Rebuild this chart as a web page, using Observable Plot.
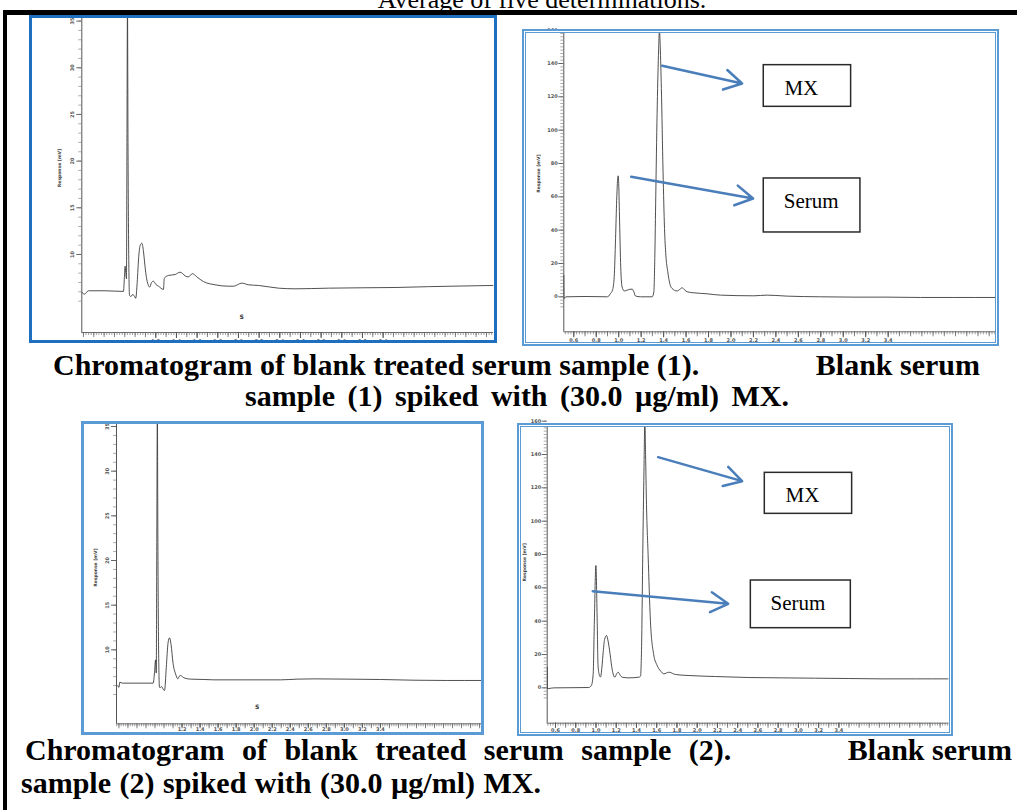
<!DOCTYPE html>
<html><head><meta charset="utf-8">
<script src="https://cdn.jsdelivr.net/npm/d3@7"></script>
<script src="https://cdn.jsdelivr.net/npm/@observablehq/plot@0.6"></script>
<style>
html,body{margin:0;padding:0;background:#fff;}
#page{position:relative;width:1017px;height:810px;overflow:hidden;background:#fff;}
.panel{position:absolute;}
.border{position:absolute;box-sizing:border-box;pointer-events:none;}
</style></head><body><div id="page"></div>
<script>
// ---------- DATA (retention time [min], response [mV]) ----------
const p1Trace = [[0.484,5.96],[0.51,5.75],[0.548,6.11],[0.71,6.11],[0.887,6.04],[0.896,7.5],[0.903,8.75],[0.91,8.0],[0.916,7.4],[0.921,22],[0.926,37],[0.931,22],[0.938,10],[0.946,5.6],[0.96,5.5],[0.975,5.7],[0.99,5.6],[1.006,5.3],[1.02,7],[1.035,9.8],[1.05,11],[1.065,11.2],[1.08,10.4],[1.095,8.8],[1.11,7.5],[1.125,6.8],[1.14,6.5],[1.16,7.0],[1.177,7.14],[1.2,6.8],[1.226,6.6],[1.274,6.25],[1.282,7.4],[1.29,7.55],[1.323,7.75],[1.387,7.85],[1.435,8.1],[1.46,7.95],[1.484,7.7],[1.516,7.6],[1.555,7.95],[1.597,7.6],[1.661,7.1],[1.774,6.75],[1.903,6.6],[1.952,6.6],[2.032,6.93],[2.097,6.75],[2.194,6.68],[2.387,6.39],[2.548,6.32],[2.871,6.39],[3.194,6.43],[3.516,6.46],[3.839,6.55],[4.161,6.62],[4.47,6.68]];
const p2Trace = [[0.511,13],[0.513,-1],[0.53,0],[0.7,0.2],[0.9,0],[0.912,0.5],[0.927,2],[0.945,4],[0.96,12],[0.972,35],[0.982,58],[0.99,70],[0.995,72.6],[1.0,68],[1.008,45],[1.018,18],[1.03,6],[1.05,3.5],[1.075,4],[1.1,4.5],[1.12,4.6],[1.135,3],[1.149,0.5],[1.194,0],[1.298,0],[1.313,3],[1.322,25],[1.33,60],[1.342,110],[1.354,145],[1.363,160],[1.37,150],[1.38,125],[1.395,75],[1.408,41],[1.42,25],[1.437,15],[1.455,8],[1.475,5],[1.52,3.5],[1.545,4.5],[1.565,5.4],[1.59,4],[1.609,3],[1.669,2.4],[1.788,1.8],[1.906,1],[2.203,0.6],[2.322,1],[2.4,0.8],[2.5,0.4],[2.797,0],[3.094,-0.2],[3.391,-0.2],[3.688,-0.4],[3.985,-0.4],[4.356,-0.4]];
const p3Trace = [[0.488,6.0],[0.5,5.8],[0.51,6.38],[0.536,6.27],[0.88,6.27],[0.895,7.5],[0.906,8.88],[0.914,7.4],[0.92,22],[0.926,37],[0.932,22],[0.94,10],[0.95,5.8],[0.962,5.8],[0.975,5.9],[0.99,5.6],[1.006,5.45],[1.025,8],[1.045,10.8],[1.061,11.34],[1.078,10.6],[1.1,8.5],[1.128,7.31],[1.153,6.75],[1.17,7.05],[1.183,7.13],[1.22,6.87],[1.294,6.72],[1.442,6.68],[1.553,6.64],[1.922,6.64],[2.292,6.64],[2.477,6.72],[2.662,6.75],[3.031,6.72],[3.401,6.68],[3.771,6.6],[4.14,6.57],[4.529,6.57]];
const p4Trace = [[0.518,12.4],[0.521,-0.5],[0.534,-0.4],[0.584,0],[0.929,0.2],[0.955,1.5],[0.972,8],[0.984,40],[0.999,73.4],[1.012,40],[1.02,14],[1.032,8],[1.045,6.5],[1.058,12],[1.072,22],[1.085,29],[1.104,31.4],[1.12,28],[1.14,20],[1.16,11],[1.186,6.4],[1.205,8.5],[1.219,9.4],[1.24,7.5],[1.259,6.4],[1.325,6],[1.423,6.4],[1.44,7],[1.452,30],[1.462,80],[1.474,130],[1.483,160],[1.49,140],[1.499,110],[1.515,80],[1.538,40],[1.57,20],[1.6,14],[1.64,10],[1.67,8.4],[1.72,9.4],[1.786,8],[1.918,7.4],[2.181,6.8],[2.51,6.2],[2.84,6],[3.169,5.8],[3.499,5.6],[3.828,5.4],[4.157,5.4],[4.487,5.4]];

// tick labels
const xLabelsBlank = [1.2,1.4,1.6,1.8,2.0,2.2,2.4,2.6,2.8,3.0,3.2,3.4];
const xLabelsSpiked = [0.6,0.8,1.0,1.2,1.4,1.6,1.8,2.0,2.2,2.4,2.6,2.8,3.0,3.2,3.4];
const yLabelsBlank = [10,15,20,25,30,35];
const yLabelsSpiked = [0,20,40,60,80,100,120,140,160];
const yAxisTitle = ["Response [mV]"];
const sMarks1 = [{t:2.032, v:3.3, s:"S"}];
const sMarks3 = [{t:2.033, v:3.6, s:"S"}];

// annotations (in data units of each spiked chromatogram)
const p2Arrows = [{x1:1.387,y1:138.6,x2:2.099,y2:128},{x1:1.111,y1:72,x2:2.197,y2:59}];
const p2Boxes = [{x1:2.292,x2:3.070,y1:139,y2:114},{x1:2.292,x2:3.153,y1:71,y2:38.6}];
const p2Names = [{t:2.476,v:121,name:"MX"},{t:2.471,v:53,name:"Serum"}];
const p4Arrows = [{x1:1.614,y1:138.4,x2:2.444,y2:124},{x1:0.968,y1:58,x2:2.306,y2:50.4}];
const p4Boxes = [{x1:2.668,x2:3.531,y1:129,y2:104.4},{x1:2.530,x2:3.518,y1:64.4,y2:35.8}];
const p4Names = [{t:2.873,v:111.4,name:"MX"},{t:2.724,v:46.8,name:"Serum"}];

// ---------- drawing ----------
const serif = "'Liberation Serif','Times New Roman',Times,serif";
const page = document.getElementById("page");

function chromatogram(c) {
  const data = c.trace.map(([t, v]) => ({t, v}));
  const [x0, x1] = c.x, [y0, y1] = c.y;
  const minorX = d3.range(Math.ceil(x0 / 0.025) * 0.025, x1, 0.025);
  const midX = d3.range(Math.ceil(x0 / 0.1) * 0.1, x1, 0.1);
  const marks = [
    Plot.ruleX([x0], {stroke: "#555", strokeWidth: 1}),
    Plot.ruleY([y0], {stroke: "#666", strokeWidth: 1}),
    Plot.axisX({ticks: minorX, tickSize: 3, fill: "none", stroke: "#777", strokeWidth: 0.7, label: null}),
    Plot.axisX({ticks: midX, tickSize: 5, fill: "none", stroke: "#666", strokeWidth: 0.8, label: null}),
    Plot.axisX({ticks: c.xLabels, tickSize: c.xTick, tickPadding: c.xPad, fontSize: 5, fontWeight: "bold", fill: "#555", stroke: "#555", tickFormat: d3.format(".1f"), label: null}),
    Plot.axisY({ticks: c.yMinor, tickSize: 3, fill: "none", stroke: "#888", strokeWidth: 0.7, label: null}),
    Plot.axisY({ticks: c.yLabels, tickSize: 5, tickPadding: c.yPad, fontSize: 5, fontWeight: "bold", fill: "#555", stroke: "#666", tickRotate: c.rotateY, tickFormat: d3.format("d"), label: null}),
    Plot.text(yAxisTitle, {frameAnchor: "left", textAnchor: "middle", rotate: -90, dx: -c.titleOffset, dy: c.titleDy, fontSize: 4.5, fontWeight: "bold", fill: "#444"}),
    Plot.line(data, {x: "t", y: "v", stroke: "#3c3c3c", strokeWidth: 0.9, curve: "monotone-x", clip: true})
  ];
  if (c.sMarks) marks.push(Plot.text(c.sMarks, {x: "t", y: "v", text: "s", fontSize: 6, fontWeight: "bold", fill: "#333"}));
  if (c.arrows) {
    marks.push(Plot.rect(c.boxes, {x1: "x1", x2: "x2", y1: "y1", y2: "y2", fill: "white", stroke: "#2a2a2a", strokeWidth: 1.5}));
    marks.push(Plot.text(c.names, {x: "t", y: "v", text: "name", textAnchor: "start", lineAnchor: "bottom", fontSize: 21, fontFamily: serif, fill: "#000"}));
    marks.push(Plot.arrow(c.arrows, {x1: "x1", y1: "y1", x2: "x2", y2: "y2", stroke: "#4a7ebb", strokeWidth: 2.5, headLength: 12, headAngle: 60}));
  }
  return Plot.plot({
    width: c.width, height: c.height,
    marginLeft: c.ml, marginRight: c.mr, marginTop: c.mt, marginBottom: c.mb,
    x: {domain: c.x}, y: {domain: c.y},
    style: {background: "none", overflow: "visible", fontFamily: "'DejaVu Sans',sans-serif"},
    marks
  });
}

const panels = [
  {left:29, top:15, width:468, height:328, ml:52.3, mr:3.8, mt:0, mb:11, x:[0.484,4.47], y:[1.64,35.6],
   trace:p1Trace, xLabels:xLabelsBlank, xTick:6, xPad:1, yLabels:yLabelsBlank, yMinor:d3.range(5,36,1), rotateY:-90, yPad:3,
   titleOffset:22.6, titleDy:-6, sMarks:sMarks1,
   border:"3px solid #1f6fc1", shadow:"none"},
  {left:522, top:29, width:477, height:317, ml:41.3, mr:4, mt:0, mb:14.7, x:[0.511,4.356], y:[-21,160.4],
   trace:p2Trace, xLabels:xLabelsSpiked, xTick:6, xPad:1, yLabels:yLabelsSpiked, yMinor:d3.range(-6,161,2), rotateY:0, yPad:1,
   titleOffset:25, titleDy:-7, arrows:p2Arrows, boxes:p2Boxes, names:p2Names,
   border:"2px solid #5b9bd5", shadow:"inset 0 0 0 1px #fff, inset 0 0 0 2px #5b9bd5"},
  {left:81, top:421, width:403, height:314, ml:35, mr:2.3, mt:0, mb:11.7, x:[0.473,4.529], y:[1.72,35.56],
   trace:p3Trace, xLabels:xLabelsBlank, xTick:4, xPad:0, yLabels:yLabelsBlank, yMinor:d3.range(5,36,1), rotateY:-90, yPad:3,
   titleOffset:21, titleDy:-5, sMarks:sMarks3,
   border:"3px solid #5b9bd5", shadow:"none"},
  {left:517, top:423, width:436, height:313, ml:29.7, mr:4.6, mt:0, mb:13.3, x:[0.518,4.487], y:[-21.2,158.6],
   trace:p4Trace, xLabels:xLabelsSpiked, xTick:5, xPad:0, yLabels:yLabelsSpiked, yMinor:d3.range(-6,161,2), rotateY:0, yPad:1,
   titleOffset:22.4, titleDy:-11, arrows:p4Arrows, boxes:p4Boxes, names:p4Names,
   border:"2px solid #5b9bd5", shadow:"inset 0 0 0 1px #fff, inset 0 0 0 2px #5b9bd5"}
];

for (const c of panels) {
  const holder = document.createElement("div");
  holder.className = "panel";
  Object.assign(holder.style, {left: c.left + "px", top: c.top + "px", width: c.width + "px", height: c.height + "px"});
  const svg = chromatogram(c);
  svg.style.position = "absolute"; svg.style.left = "0"; svg.style.top = "0";
  holder.appendChild(svg);
  page.appendChild(holder);
  const b = document.createElement("div");
  b.className = "border";
  Object.assign(b.style, {left: c.left + "px", top: c.top + "px", width: c.width + "px", height: c.height + "px", border: c.border, boxShadow: c.shadow});
  page.appendChild(b);
}

// ---------- page text and frame ----------
const NS = "http://www.w3.org/2000/svg";
const ov = document.createElementNS(NS, "svg");
ov.setAttribute("width", 1017); ov.setAttribute("height", 810);
Object.assign(ov.style, {position: "absolute", left: "0", top: "0", pointerEvents: "none"});
function add(tag, attrs, text) {
  const el = document.createElementNS(NS, tag);
  for (const k in attrs) el.setAttribute(k, attrs[k]);
  if (text) el.textContent = text;
  ov.appendChild(el);
}
add("rect", {x: 3, y: 10, width: 1014, height: 5, fill: "#000"});
add("rect", {x: 3, y: 10, width: 4, height: 800, fill: "#000"});
add("text", {x: 542, y: 7.5, "text-anchor": "middle", "font-family": serif, "font-size": 26}, "Average of five determinations.");
const cap = {"font-family": serif, "font-size": 30, "font-weight": "bold", fill: "#000"};
add("text", {...cap, x: 53, y: 375}, "Chromatogram of blank treated serum sample (1).");
add("text", {...cap, x: 980, y: 375, "text-anchor": "end"}, "Blank serum");
add("text", {...cap, x: 517, y: 406, "text-anchor": "middle", "word-spacing": 5}, "sample (1) spiked with (30.0 µg/ml) MX.");
add("text", {...cap, x: 25, y: 759.5, "word-spacing": 10}, "Chromatogram of blank treated serum sample (2).");
add("text", {...cap, x: 1012, y: 759.5, "text-anchor": "end"}, "Blank serum");
add("text", {...cap, x: 21, y: 793, "word-spacing": 1}, "sample (2) spiked with (30.0 µg/ml) MX.");
page.appendChild(ov);
</script></body></html>
